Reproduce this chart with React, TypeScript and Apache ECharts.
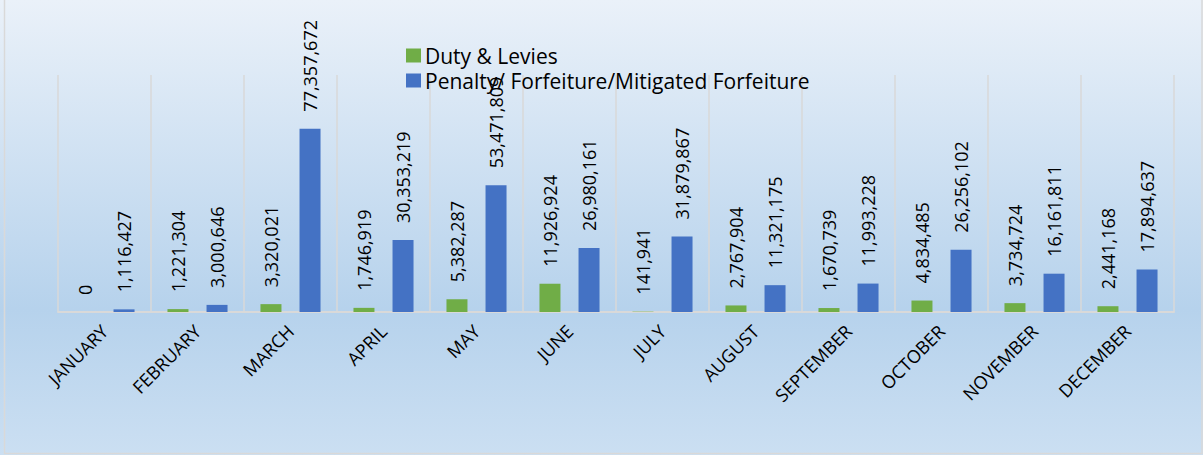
import React, { useEffect, useRef } from "react";
import * as echarts from "echarts";

const months = ["JANUARY", "FEBRUARY", "MARCH", "APRIL", "MAY", "JUNE", "JULY", "AUGUST", "SEPTEMBER", "OCTOBER", "NOVEMBER", "DECEMBER"];
const dutyLevies = [0, 1221304, 3320021, 1746919, 5382287, 11926924, 141941, 2767904, 1670739, 4834485, 3734724, 2441168];
const penalty = [1116427, 3000646, 77357672, 30353219, 53471809, 26980161, 31879867, 11321175, 11993228, 26256102, 16161811, 17894637];
const seriesNames = ["Duty & Levies", "Penalty/ Forfeiture/Mitigated Forfeiture"];

const fmt = (v: number) => v.toLocaleString("en-US");

export default function App() {
  const ref = useRef<HTMLDivElement>(null);
  useEffect(() => {
    const chart = echarts.init(ref.current!, null, { renderer: "svg" });
    const label = {
      show: true,
      position: "top" as const,
      rotate: 90,
      align: "left" as const,
      verticalAlign: "middle" as const,
      distance: 17,
      fontFamily: "Open Sans",
      fontSize: 18,
      color: "#000",
      formatter: (p: any) => fmt(p.value),
    };
    chart.setOption({
      animation: false,
      backgroundColor: new echarts.graphic.LinearGradient(0, 0, 0, 1, [
        { offset: 0, color: "#eaf1f9" },
        { offset: 0.68, color: "#b6d2ec" },
        { offset: 1, color: "#cbdff2" },
      ]),
      graphic: [
        {
          type: "rect",
          shape: { x: 4.5, y: -2, width: 1197.5, height: 455.5 },
          style: { fill: "none", stroke: "#d9d9d9", lineWidth: 1.5 },
          silent: true,
        },
      ],
      legend: {
        orient: "vertical",
        left: 401,
        top: 40,
        itemWidth: 15,
        itemHeight: 14,
        itemGap: 4,
        icon: "rect",
        textStyle: { fontFamily: "Open Sans", fontSize: 21, color: "#000", padding: [0, 0, 0, -1] },
        data: seriesNames,
      },
      grid: { left: 58, right: 29, top: 75, bottom: 143 },
      xAxis: {
        type: "category",
        data: months,
        axisLine: { lineStyle: { color: "#d9d9d9", width: 2 } },
        axisTick: { show: false },
        splitLine: { show: true, interval: 0, lineStyle: { color: "#d9d9d9", width: 1.5 } },
        axisLabel: {
          interval: 0,
          rotate: 45,
          margin: 16,
          fontFamily: "Open Sans",
          fontSize: 18,
          color: "#000",
        },
      },
      yAxis: {
        type: "value",
        min: 0,
        max: 100000000,
        show: false,
        splitLine: { show: false },
      },
      series: [
        {
          name: seriesNames[0],
          type: "bar",
          data: dutyLevies,
          barWidth: 21,
          barGap: "86%",
          itemStyle: { color: "#70AD47" },
          label,
        },
        {
          name: seriesNames[1],
          type: "bar",
          data: penalty,
          barWidth: 21,
          itemStyle: { color: "#4472C4" },
          label,
        },
      ],
    });
    return () => chart.dispose();
  }, []);
  return (
    <div
      ref={ref}
      style={{ position: "absolute", left: 0, top: 0, width: 1203, height: 455 }}
    />
  );
}
